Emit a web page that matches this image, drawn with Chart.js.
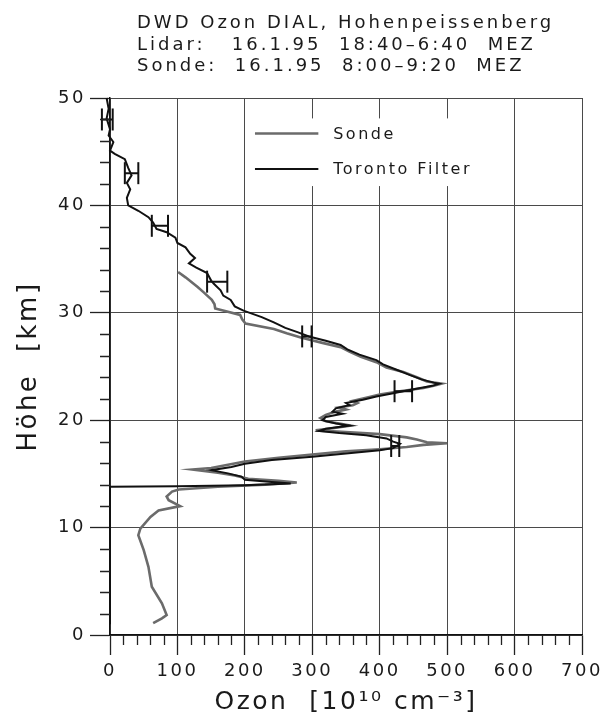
<!DOCTYPE html>
<html lang="de">
<head>
<meta charset="UTF-8">
<title>DWD Ozon DIAL, Hohenpeissenberg</title>
<script src="https://cdn.jsdelivr.net/npm/chart.js"></script>
<style>
  body { margin: 0; background: #fff; }
  #wrap { position: relative; width: 603px; height: 722px; }
  #ozonChart { position: absolute; left: 0; top: 0; }
  #kopf {
    position: absolute; left: 137px; top: 11px;
    font: 18px "DejaVu Sans"; letter-spacing: 3px; line-height: 21.5px;
    white-space: pre; color: #1a1a1a;
  }
</style>
</head>
<body>
<div id="wrap">
  <canvas id="ozonChart" width="603" height="722"></canvas>
  <div id="kopf">DWD Ozon DIAL, Hohenpeissenberg
Lidar:   16.1.95  18:40–6:40  MEZ
Sonde:  16.1.95  8:00–9:20  MEZ</div>
</div>

<script>
// Lidar-Profil (Toronto Filter): Höhe in km, Ozon in 10^10 cm^-3
const lidarHoehe = [1.0, 13.8, 13.85, 13.95, 14.1, 14.25, 14.45, 14.75, 15.05, 15.35, 15.65, 15.95,
  16.3, 16.6, 16.9, 17.2, 17.4, 17.6, 17.8, 18.0, 18.3, 18.6, 18.8, 19.0, 19.2, 19.5, 19.7, 20.0,
  20.3, 20.6, 20.8, 21.1, 21.4, 21.6, 21.9, 22.2, 22.5, 22.7, 23.0, 23.2, 23.4, 23.5, 23.8, 24.2,
  24.7, 25.2, 25.6, 26.1, 26.6, 27.0, 27.4, 27.8, 28.2, 28.6, 29.1, 29.6, 30.2, 30.6, 31.2, 31.6,
  32.1, 32.7, 33.0, 33.7, 34.2, 34.6, 35.1, 35.5, 36.1, 36.5, 37.0, 37.5, 37.8, 38.4, 38.9, 39.5,
  40.0, 40.7, 41.5, 42.1, 42.8, 43.5, 44.3, 44.8, 45.1, 45.9, 46.5, 47.1, 48.1, 49.0, 50.0];
const lidarOzon = [0, 0, 100, 200, 268, 240, 200, 195, 175, 150, 180, 200,
  240, 300, 350, 400, 420, 425, 430, 420, 410, 380, 340, 310, 320, 355, 335, 315,
  320, 345, 330, 335, 355, 350, 375, 395, 420, 435, 460, 478, 488, 480, 462, 445,
  425, 405, 395, 370, 352, 342, 320, 295, 278, 260, 243, 225, 198, 185, 179, 168,
  164, 154, 150, 144, 128, 117, 126, 119, 112, 100, 97, 84, 69, 64, 57, 42,
  27, 25, 30, 25, 32, 27, 22, 7, 0, 5, -2, 0, -5, -2, -5];

// Ozonsonde
const sondeHoehe = [1.1, 1.55, 1.85, 2.95, 4.5, 6.35, 7.9, 9.3, 9.9, 11.0, 11.6, 12.0, 12.55, 12.9,
  13.35, 13.55, 13.8, 14.0, 14.2, 14.35, 14.55, 14.85, 15.1, 15.4, 15.55, 15.85, 16.15, 16.5, 16.8,
  17.1, 17.3, 17.5, 17.7, 17.85, 17.95, 18.2, 18.4, 18.7, 18.9, 19.05, 19.25, 19.5, 19.7, 19.9,
  20.2, 20.5, 20.8, 21.0, 21.2, 21.4, 21.6, 21.8, 22.1, 22.4, 22.7, 23.0, 23.2, 23.4, 23.6, 24.0,
  24.5, 24.9, 25.4, 25.9, 26.4, 26.8, 27.2, 27.7, 28.1, 28.5, 29.0, 29.4, 29.8, 30.4, 30.8, 31.2,
  31.9, 32.4, 32.7, 33.3, 33.8];
const sondeOzon = [64, 77, 84, 77, 62, 57, 50, 42, 45, 60, 72, 104, 87, 84,
  92, 102, 160, 230, 277, 250, 205, 185, 160, 122, 150, 175, 200, 250, 300,
  350, 400, 440, 465, 500, 470, 455, 440, 400, 350, 305, 330, 357, 340, 320,
  312, 320, 335, 350, 340, 360, 367, 360, 380, 400, 430, 465, 480, 492, 470, 455,
  435, 410, 395, 372, 355, 342, 315, 283, 262, 243, 201, 196, 193, 156, 155, 151,
  139, 130, 124, 112, 101];

// Fehlerbalken des Lidars: Höhe, Mittelwert, halbe Breite
const errHoehe = [48.0, 43.0, 38.1, 32.9, 27.8, 22.7, 17.6];
const errMitte = [-4, 32, 74, 159, 292, 435, 423];
const errHalb = [8, 10, 12, 15, 7, 13, 6];

const legendeText = ['Sonde', 'Toronto Filter'];

const SCHRIFT = 'DejaVu Sans';
const toPoints = (xs, ys) => xs.map((v, i) => ({ x: v, y: ys[i] }));

// jeder Balken ein Linienstück, getrennt durch eine Lücke
const errPoints = [];
errHoehe.forEach((h, i) => {
  errPoints.push({ x: errMitte[i] - errHalb[i], y: h },
                 { x: errMitte[i] + errHalb[i], y: h },
                 { x: null, y: null });
});

// weiter gesperrte Schrift wie im Plotter-Font
const sperrung = {
  id: 'sperrung',
  beforeUpdate(chart) { chart.ctx.letterSpacing = '2.5px'; },
  beforeDraw(chart) { chart.ctx.letterSpacing = '2.5px'; }
};

// kleine Zwischenstriche an beiden Achsen
const feinStriche = {
  id: 'feinStriche',
  afterDraw(chart) {
    const { ctx, scales: { x, y } } = chart;
    ctx.save();
    ctx.strokeStyle = '#222';
    ctx.lineWidth = 1.3;
    ctx.beginPath();
    for (let v = 20; v < 700; v += 20) {
      if (v % 100 === 0) continue;
      const px = Math.round(x.getPixelForValue(v)) + 0.5;
      ctx.moveTo(px, y.bottom);
      ctx.lineTo(px, y.bottom + 10);
    }
    for (let v = 2; v < 50; v += 2) {
      if (v % 10 === 0) continue;
      const py = Math.round(y.getPixelForValue(v)) + 0.5;
      ctx.moveTo(x.left - 10, py);
      ctx.lineTo(x.left, py);
    }
    ctx.stroke();
    ctx.restore();
  }
};

// Legende im Diagramm, weiss hinterlegt
const legende = {
  id: 'legende',
  afterDatasetsDraw(chart) {
    const { ctx, scales: { x, y } } = chart;
    const l = x.getPixelForValue(208), r = x.getPixelForValue(565);
    const t = y.getPixelForValue(48.1), b = y.getPixelForValue(41.8);
    ctx.save();
    ctx.fillStyle = '#fff';
    ctx.fillRect(l, t, r - l, b - t);
    const reihen = [
      { text: legendeText[0], ds: chart.data.datasets[2], h: 46.7 },
      { text: legendeText[1], ds: chart.data.datasets[0], h: 43.4 }
    ];
    ctx.font = '16px "' + SCHRIFT + '"';
    ctx.letterSpacing = '2.5px';
    ctx.textBaseline = 'middle';
    ctx.textAlign = 'left';
    reihen.forEach(rh => {
      const py = y.getPixelForValue(rh.h);
      ctx.strokeStyle = rh.ds.borderColor;
      ctx.lineWidth = rh.ds.borderWidth;
      ctx.beginPath();
      ctx.moveTo(x.getPixelForValue(215), py);
      ctx.lineTo(x.getPixelForValue(309), py);
      ctx.stroke();
      ctx.fillStyle = '#1a1a1a';
      ctx.fillText(rh.text, x.getPixelForValue(331), py + 1);
    });
    ctx.restore();
  }
};

new Chart(document.getElementById('ozonChart'), {
  type: 'scatter',
  data: {
    datasets: [
      {
        label: legendeText[1],
        data: toPoints(lidarOzon, lidarHoehe),
        showLine: true,
        borderColor: '#111',
        borderWidth: 2,
        pointRadius: 0,
        clip: false
      },
      {
        label: 'Fehlerbalken',
        data: errPoints,
        showLine: true,
        spanGaps: false,
        borderColor: '#111',
        borderWidth: 2,
        pointStyle: 'line',
        pointRotation: 90,
        pointRadius: 11,
        pointBorderWidth: 2,
        pointBorderColor: '#111',
        clip: false
      },
      {
        label: legendeText[0],
        data: toPoints(sondeOzon, sondeHoehe),
        showLine: true,
        borderColor: '#6b6b6b',
        borderWidth: 2.6,
        pointRadius: 0
      }
    ]
  },
  options: {
    responsive: false,
    animation: false,
    events: [],
    layout: { padding: { top: 98, right: 21, left: 0, bottom: 0 } },
    plugins: {
      legend: { display: false },
      tooltip: { enabled: false }
    },
    scales: {
      x: {
        type: 'linear',
        min: 0,
        max: 700,
        afterFit: s => { s.height = 87; s.paddingLeft = 0; s.paddingRight = 0; },
        ticks: {
          stepSize: 100,
          autoSkip: false,
          maxRotation: 0,
          padding: 6,
          color: '#1a1a1a',
          font: { family: SCHRIFT, size: 18 }
        },
        grid: { color: '#4a4a4a', lineWidth: 1, tickLength: 20, tickColor: '#222', tickWidth: 1.3 },
        border: { color: '#111', width: 1.5 },
        title: {
          display: true,
          text: 'Ozon  [10¹⁰ cm⁻³]',
          color: '#1a1a1a',
          font: { family: SCHRIFT, size: 25 },
          padding: { bottom: 5 }
        }
      },
      y: {
        type: 'linear',
        min: 0,
        max: 50,
        afterFit: s => { s.width = 110; s.paddingTop = 0; s.paddingBottom = 0; },
        ticks: {
          stepSize: 10,
          autoSkip: false,
          padding: 4,
          color: '#1a1a1a',
          font: { family: SCHRIFT, size: 18 }
        },
        grid: { color: '#4a4a4a', lineWidth: 1, tickLength: 20, tickColor: '#222', tickWidth: 1.3 },
        border: { color: '#111', width: 1.5 },
        title: {
          display: true,
          text: 'Höhe  [km]',
          color: '#1a1a1a',
          font: { family: SCHRIFT, size: 26 },
          padding: { top: 14 }
        }
      }
    }
  },
  plugins: [sperrung, feinStriche, legende]
});
</script>
</body>
</html>
